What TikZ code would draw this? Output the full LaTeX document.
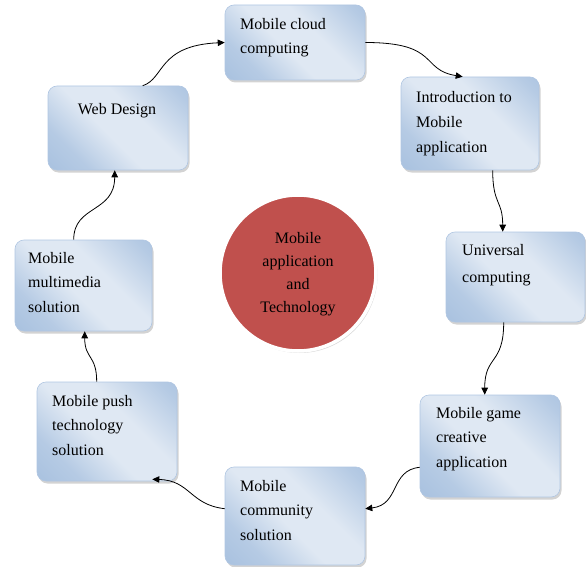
\documentclass[tikz,border=0pt]{standalone}
\usepackage{fontspec}
\setmainfont{Liberation Serif}
\usetikzlibrary{shadows,calc,arrows.meta}
\definecolor{boxlight}{HTML}{DFE8F3}
\definecolor{boxdark}{HTML}{9AB7DA}
\definecolor{boxedge}{HTML}{B0C6E2}
\definecolor{circred}{HTML}{C0504D}
\pgfdeclareverticalshading{boxshade}{100bp}{color(0bp)=(boxdark); color(28bp)=(boxdark!60!boxlight); color(45bp)=(boxlight); color(60bp)=(boxlight); color(80bp)=(boxdark!60!boxlight); color(100bp)=(boxdark)}
\tikzset{
  topicbox/.style={rectangle, rounded corners=9pt, draw=boxedge, line width=0.6pt,
    shading=boxshade, shading angle=-45,
    drop shadow={shadow xshift=1.5pt, shadow yshift=-2.5pt, opacity=0.35},
    inner sep=0pt},
  boxtext/.style={anchor=base west, inner sep=0pt, align=left,
    font=\fontsize{16}{24.5}\selectfont},
  flow/.style={draw=black, line width=0.8pt, -{Triangle[length=7pt,width=6.5pt]}},
}
\begin{document}
\begin{tikzpicture}[x=1pt,y=-1pt]
\useasboundingbox (0,0) rectangle (586,567);
% boxes
\node[topicbox, minimum width=140pt, minimum height=75pt] (cloud) at (295,42.5) {};
\node[topicbox, minimum width=138pt, minimum height=93pt] (intro) at (470,123.5) {};
\node[topicbox, minimum width=139pt, minimum height=90pt] (univ) at (515.5,277) {};
\node[topicbox, minimum width=140pt, minimum height=102pt] (game) at (490,446) {};
\node[topicbox, minimum width=140pt, minimum height=98pt] (comm) at (295,516) {};
\node[topicbox, minimum width=140pt, minimum height=99pt] (push) at (107,431.5) {};
\node[topicbox, minimum width=137pt, minimum height=91pt] (mm) at (83.5,285.5) {};
\node[topicbox, minimum width=140pt, minimum height=84pt] (web) at (118,128) {};
% centre circle
\node[circle, minimum size=156pt, fill=circred, draw=white, line width=3.5pt,
  drop shadow={shadow xshift=1.5pt, shadow yshift=-2pt, opacity=0.3}] (hub) at (298,273) {};
\node[anchor=base, inner sep=0pt, align=center, font=\fontsize{16}{23}\selectfont] (hubtext) at (298,312)
  {Mobile\\application\\and\\Technology};
% texts (anchor is the baseline of the last line)
\node[boxtext] (tcloud) at (240,54) {Mobile cloud\\computing};
\node[boxtext] (tintro) at (416,152) {Introduction to\\Mobile\\application};
\node[boxtext, font=\fontsize{16}{26.5}\selectfont] (tuniv) at (462,282) {Universal\\computing};
\node[boxtext] (tgame) at (436,467) {Mobile game\\creative\\application};
\node[boxtext] (tcomm) at (240,540) {Mobile\\community\\solution};
\node[boxtext] (tpush) at (52,455) {Mobile push\\technology\\solution};
\node[boxtext] (tmm) at (28,312) {Mobile\\multimedia\\solution};
\node[boxtext, anchor=base] (tweb) at (117,114) {Web Design};
% connectors
\draw[flow] ($(web.north west)+(95,0)$) .. controls +(22,-7) and +(-67,3) .. (cloud.west);
\draw[flow] (cloud.east) .. controls +(75,0) and +(-43,-7) .. ($(intro.north west)+(62,0)$);
\draw[flow] ($(intro.south west)+(92,0)$) .. controls +(0,35) and +(0,-32) .. ($(univ.north west)+(57,0)$);
\draw[flow] ($(univ.south west)+(58,0)$) .. controls +(0,43) and +(0,-40) .. ($(game.north west)+(65,0)$);
\draw[flow] ($(game.south west)+(0,-30)$) .. controls +(-30,3) and +(35,-4) .. ($(comm.north east)+(0,42)$);
\draw[flow] ($(comm.north west)+(0,42)$) .. controls +(-35,-4) and +(38,1) .. ($(push.south east)+(-25,-2)$);
\draw[flow] ($(push.north west)+(60,0)$) .. controls +(0,-27) and +(0,28) .. ($(mm.south west)+(70,0)$);
\draw[flow] ($(mm.north west)+(59,0)$) .. controls +(0,-35) and +(0,43) .. ($(web.south west)+(67,0)$);
\end{tikzpicture}
\end{document}
